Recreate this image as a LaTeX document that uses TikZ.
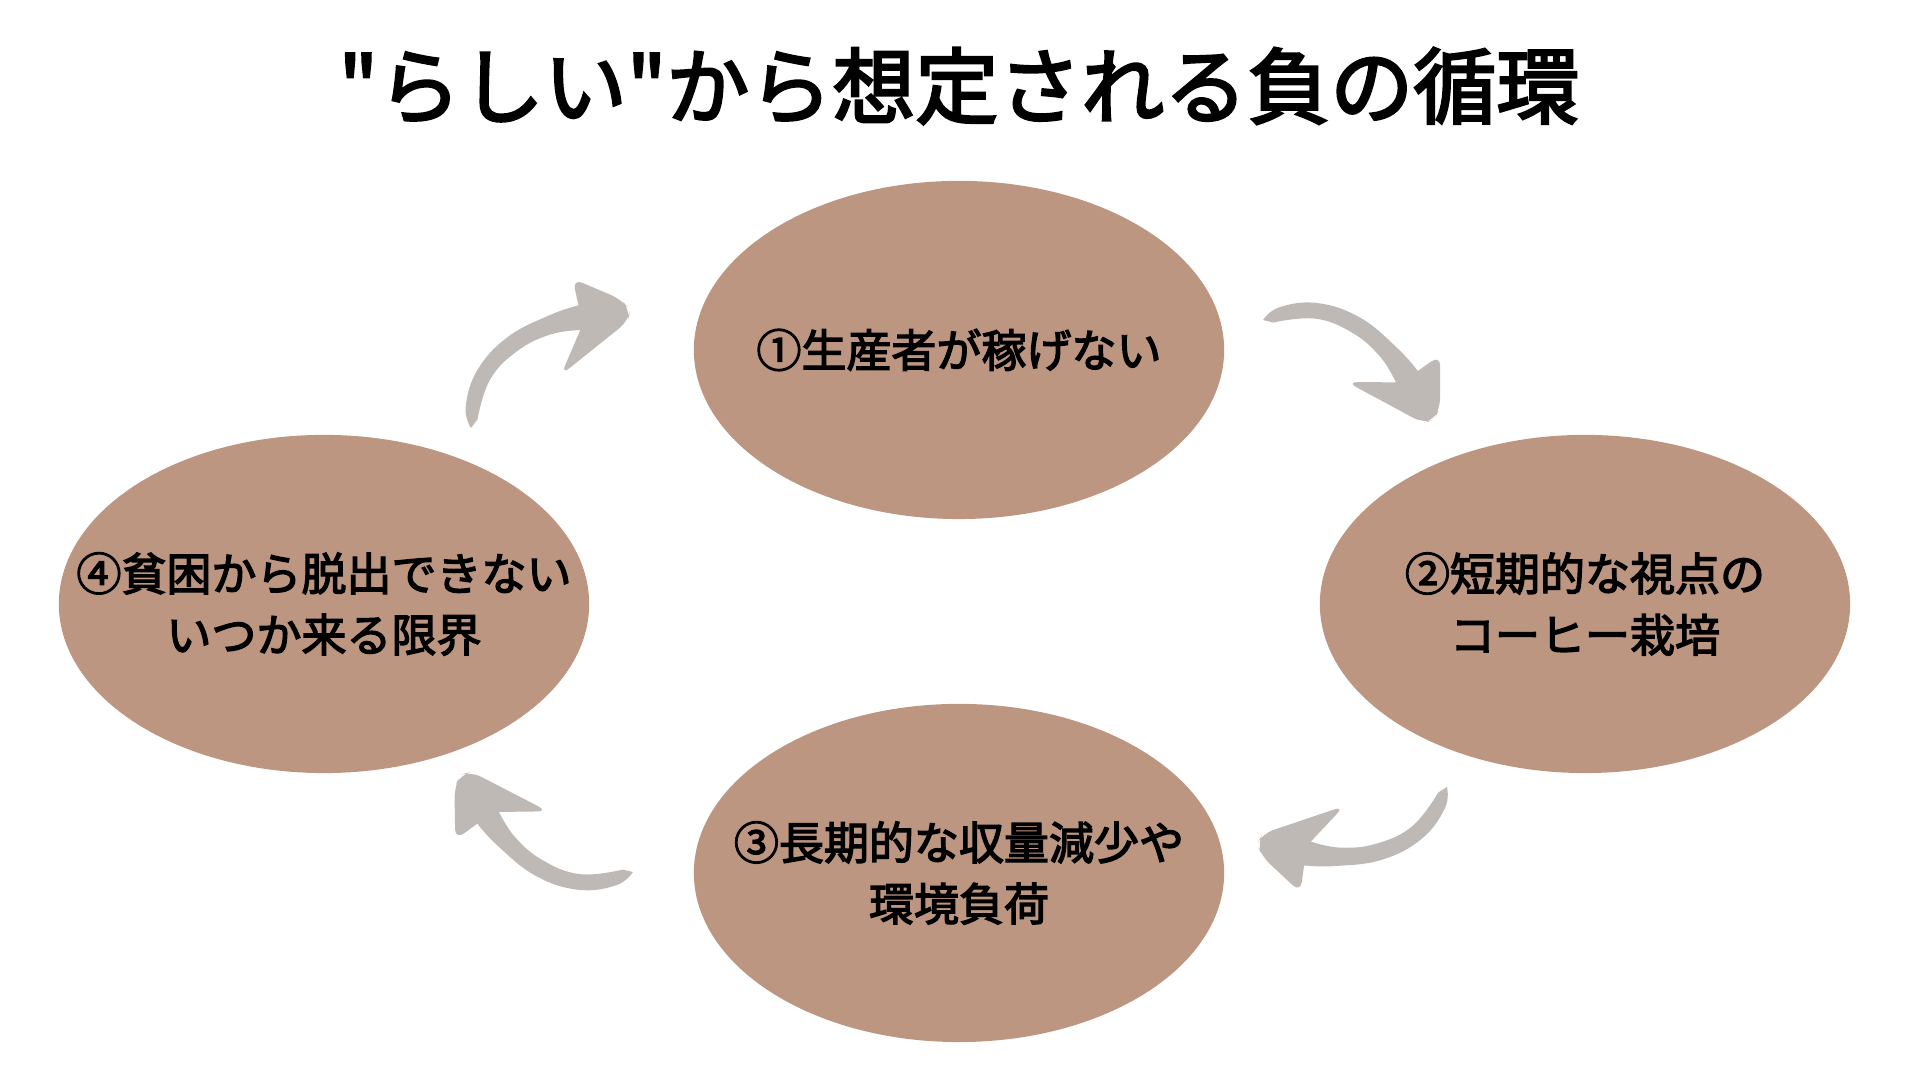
\documentclass[tikz,border=0pt]{standalone}
\usepackage{fontspec}
\setmainfont{Noto Sans CJK JP}[Ligatures=TeXOff]
\newfontfamily\medfont{Noto Sans CJK JP}[Ligatures=TeXOff,FakeBold=3]
\usepackage{tikz}
\usetikzlibrary{shapes.geometric}

\definecolor{mocha}{RGB}{189,150,130}
\definecolor{ashgrey}{RGB}{191,185,182}

\tikzset{
  stage/.style={ellipse, fill=mocha, minimum width=5.3cm, minimum height=3.38cm, inner sep=0pt},
  caption/.style={align=center, font=\medfont\fontsize{12.8}{17.4}\selectfont},
  heading/.style={font=\medfont\fontsize{23.6}{28}\selectfont},
  % brush-like curved arrow, tail at the origin, pointing along +x
  bendarrow/.pic={
    \fill[ashgrey] plot[smooth,tension=0.7] coordinates {(0,0) (8,20) (39,43) (83,52) (130,45) (159,36)}
      {[rounded corners=3pt] -- (170,61) -- (197,16) -- (198,2) -- (190,-6) -- (104,-10)}
      -- plot[smooth,tension=0.7] coordinates {(146,15) (119,29) (83,35) (44,28) (10,3)} -- cycle;
  }
}

\begin{document}
\begin{tikzpicture}[x=0.01cm,y=0.01cm]
	\useasboundingbox (0,0) rectangle (1920,1080);
	\node[heading] at (959,994) (title) {"らしい"から想定される負の循環};

	\node[stage] at (959,730) (earn) {};
	\node[stage] at (1585,476) (short) {};
	\node[stage] at (959,207) (long) {};
	\node[stage] at (324,476) (poor) {};

	\node[caption] at (earn) (earntext) {①生産者が稼げない};
	\node[caption] at (short) (shorttext) {②短期的な視点の\\コーヒー栽培};
	\node[caption] at (long) (longtext) {③長期的な収量減少や\\環境負荷};
	\node[caption] at (poor) (poortext) {④貧困から脱出できない\\いつか来る限界};

	\pic[rotate=36] at (471,652) {bendarrow};
	\pic[rotate=-31] at (1263,760) {bendarrow};
	\pic[rotate=196] at (1447,293) {bendarrow};
	\pic[rotate=150] at (633,208) {bendarrow};
\end{tikzpicture}
\end{document}
